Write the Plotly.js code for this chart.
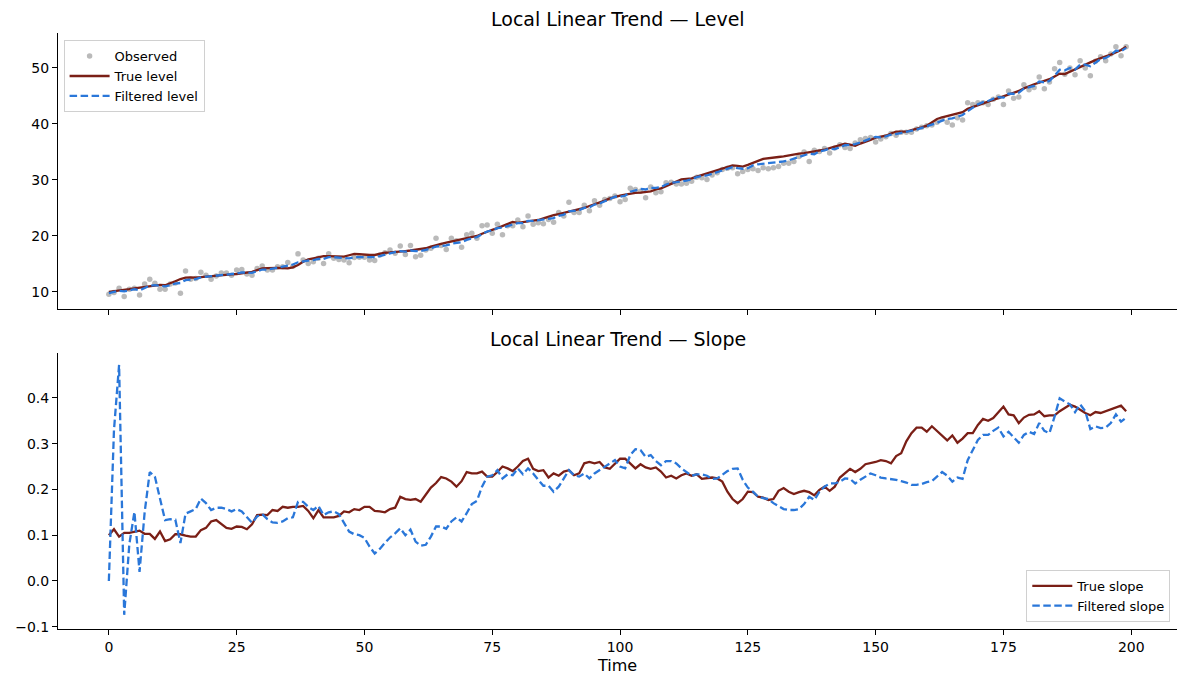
<!DOCTYPE html>
<html>
<head>
<meta charset="utf-8">
<script src="https://cdn.plot.ly/plotly-3.0.1.min.js"></script>
<style>
  html, body { margin: 0; padding: 0; background: #fff; }
  #chart { width: 1187px; height: 687px; }
</style>
</head>
<body>
<div id="chart"></div>
<script>
// values, t = 0..199
const observed = [
  9.6, 9.9, 10.65, 9.2, 10.5, 10.65, 9.45, 11.4, 12.25, 11.55,
  10.5, 10.5, 11.4, 11.6, 9.75, 13.75, 12.25, 12.4, 13.5, 13.0,
  12.25, 12.85, 13.4, 13.4, 13.0, 13.9, 14.0, 13.2, 13.0, 14.2,
  14.65, 13.9, 13.9, 14.5, 14.5, 15.25, 14.6, 16.8, 15.7, 15.1,
  15.4, 16.0, 15.1, 16.8, 16.0, 15.8, 15.7, 15.2, 16.15, 16.2,
  16.2, 15.7, 15.6, 16.6, 17.0, 17.5, 16.9, 18.2, 16.7, 18.3,
  16.3, 16.55, 17.5, 17.8, 19.6, 18.3, 17.6, 19.6, 19.15, 18.0,
  20.2, 20.5, 19.6, 21.8, 21.95, 20.5, 22.1, 20.2, 21.8, 21.8,
  22.85, 21.65, 23.55, 22.1, 22.35, 22.2, 22.95, 22.45, 24.2, 23.55,
  26.0, 24.2, 24.2, 25.5, 24.5, 26.3, 25.5, 26.5, 26.7, 27.15,
  26.1, 26.5, 28.5, 28.3, 28.0, 26.8, 28.75, 27.7, 27.9, 29.5,
  29.6, 29.3, 29.3, 29.4, 29.75, 30.5, 30.4, 30.1, 30.9, 31.3,
  31.85, 32.1, 32.2, 31.1, 31.5, 31.85, 32.0, 31.7, 32.2, 32.0,
  32.2, 32.4, 33.0, 33.0, 33.3, 34.2, 35.0, 33.3, 35.3, 35.1,
  35.6, 34.8, 35.7, 36.3, 35.8, 35.6, 36.6, 37.2, 37.4, 37.6,
  36.8, 37.3, 37.7, 38.3, 38.0, 38.5, 38.5, 38.5, 39.1, 39.4,
  39.7, 39.8, 40.3, 40.9, 40.3, 39.8, 41.1, 40.7, 43.8, 43.5,
  43.8, 43.8, 43.5, 44.4, 44.8, 43.5, 45.9, 44.6, 44.8, 47.0,
  46.1, 46.5, 48.4, 46.3, 47.5, 49.85, 51.0, 48.9, 50.0, 48.8,
  51.3, 50.0, 48.6, 51.2, 52.0, 51.3, 52.5, 53.8, 52.2, 53.8
];

const trueLevel = [
  10.0, 10.1, 10.2, 10.35, 10.5, 10.65, 10.75, 10.9, 11.0, 11.1,
  11.25, 11.2, 11.5, 11.9, 12.3, 12.55, 12.6, 12.55, 12.65, 12.75,
  12.85, 12.9, 13.0, 13.1, 13.15, 13.2, 13.3, 13.45, 13.6, 13.9,
  14.2, 14.25, 14.3, 14.3, 14.25, 14.2, 14.4, 14.8, 15.4, 15.8,
  16.0, 16.2, 16.4, 16.4, 16.4, 16.35, 16.3, 16.55, 16.8, 16.75,
  16.65, 16.6, 16.6, 16.8, 17.0, 17.05, 17.1, 17.2, 17.3, 17.4,
  17.5, 17.6, 17.8, 18.1, 18.4, 18.6, 18.8, 19.0, 19.2, 19.4,
  19.6, 19.8, 20.0, 20.4, 20.8, 21.1, 21.4, 21.75, 22.1, 22.5,
  22.35, 22.5, 22.6, 22.75, 22.85, 23.15, 23.45, 23.7, 23.9, 24.1,
  24.35, 24.5, 24.7, 25.0, 25.35, 25.65, 25.95, 26.3, 26.7, 27.0,
  27.2, 27.4, 27.6, 27.7, 27.75, 27.85, 27.95, 28.3, 28.5, 28.9,
  29.35, 29.75, 30.1, 30.2, 30.3, 30.6, 30.9, 31.2, 31.5, 31.8,
  32.1, 32.4, 32.6, 32.5, 32.4, 32.7, 33.0, 33.4, 33.75, 33.9,
  34.0, 34.1, 34.2, 34.4, 34.6, 34.7, 34.8, 34.95, 35.1, 35.25,
  35.4, 35.7, 36.0, 36.3, 36.5, 36.3, 36.1, 36.5, 36.8, 37.15,
  37.55, 37.7, 37.9, 38.3, 38.65, 38.65, 38.65, 38.9, 39.1, 39.4,
  39.7, 40.3, 40.9, 41.2, 41.45, 41.7, 41.9, 42.1, 42.7, 43.05,
  43.4, 43.7, 44.0, 44.3, 44.6, 44.9, 45.2, 45.55, 45.9, 46.35,
  46.8, 47.1, 47.4, 47.7, 48.0, 48.5, 49.0, 48.9, 49.35, 49.8,
  50.2, 50.6, 51.0, 51.4, 51.8, 52.1, 52.4, 52.8, 53.2, 53.8
];

const filteredLevel = [
  9.8, 10.0, 10.2, 10.1, 10.35, 10.5, 10.3, 10.7, 11.1, 11.2,
  11.1, 11.0, 11.2, 11.5, 11.6, 12.1, 12.2, 12.3, 12.6, 12.7,
  12.7, 12.8, 13.0, 13.1, 13.1, 13.3, 13.5, 13.4, 13.4, 13.7,
  14.0, 14.0, 14.1, 14.3, 14.5, 14.7, 14.9, 15.3, 15.5, 15.6,
  15.7, 15.9, 15.9, 16.2, 16.2, 16.1, 16.1, 16.0, 16.2, 16.2,
  16.3, 16.2, 16.2, 16.4, 16.7, 16.9, 17.1, 17.3, 17.2, 17.4,
  17.3, 17.3, 17.5, 17.8, 18.1, 18.2, 18.3, 18.6, 18.8, 18.9,
  19.3, 19.6, 19.8, 20.3, 20.8, 21.0, 21.4, 21.5, 21.8, 22.0,
  22.3, 22.3, 22.7, 22.7, 22.8, 22.9, 23.1, 23.2, 23.6, 23.8,
  24.4, 24.5, 24.6, 25.0, 25.1, 25.6, 25.8, 26.2, 26.6, 27.0,
  27.0, 27.2, 27.9, 28.2, 28.4, 28.3, 28.6, 28.6, 28.7, 29.2,
  29.5, 29.6, 29.7, 29.9, 30.1, 30.5, 30.7, 30.8, 31.1, 31.4,
  31.8, 32.1, 32.3, 32.1, 32.0, 32.1, 32.6, 32.8, 32.9, 33.0,
  33.0, 33.1, 33.3, 33.5, 33.8, 34.1, 34.5, 34.7, 34.6, 35.1,
  35.3, 35.6, 35.5, 35.8, 36.2, 36.3, 36.4, 36.7, 37.1, 37.4,
  37.7, 37.6, 37.8, 38.1, 38.2, 38.4, 38.6, 38.7, 39.0, 39.3,
  39.6, 39.8, 40.2, 40.6, 40.9, 41.0, 41.3, 41.6, 42.3, 42.9,
  43.5, 43.9, 44.1, 44.5, 44.8, 44.7, 45.4, 45.4, 45.6, 46.3,
  46.5, 46.8, 47.6, 47.4, 47.7, 48.6, 49.7, 49.6, 50.0, 49.7,
  50.6, 50.6, 50.3, 51.0, 51.6, 51.8, 52.3, 53.1, 53.0, 53.6
];

const trueSlope = [
  0.100, 0.113, 0.097, 0.105, 0.105, 0.108, 0.110, 0.103, 0.103, 0.092,
  0.108, 0.087, 0.091, 0.102, 0.102, 0.099, 0.097, 0.097, 0.111, 0.116,
  0.130, 0.133, 0.124, 0.116, 0.114, 0.119, 0.118, 0.113, 0.124, 0.144,
  0.145, 0.144, 0.155, 0.153, 0.162, 0.160, 0.162, 0.162, 0.164, 0.153,
  0.137, 0.155, 0.139, 0.139, 0.139, 0.142, 0.152, 0.150, 0.157, 0.155,
  0.162, 0.162, 0.153, 0.152, 0.150, 0.157, 0.160, 0.184, 0.179, 0.177,
  0.179, 0.173, 0.188, 0.204, 0.214, 0.227, 0.224, 0.217, 0.206, 0.218,
  0.238, 0.235, 0.235, 0.239, 0.228, 0.228, 0.238, 0.250, 0.246, 0.240,
  0.250, 0.262, 0.267, 0.245, 0.240, 0.242, 0.226, 0.235, 0.230, 0.239,
  0.242, 0.231, 0.235, 0.257, 0.260, 0.257, 0.260, 0.248, 0.245, 0.257,
  0.267, 0.267, 0.257, 0.246, 0.255, 0.248, 0.245, 0.248, 0.239, 0.226,
  0.230, 0.224, 0.231, 0.235, 0.230, 0.233, 0.223, 0.224, 0.226, 0.224,
  0.217, 0.195, 0.179, 0.170, 0.179, 0.195, 0.194, 0.184, 0.182, 0.177,
  0.179, 0.197, 0.203, 0.195, 0.190, 0.194, 0.197, 0.194, 0.187, 0.199,
  0.206, 0.197, 0.206, 0.226, 0.235, 0.245, 0.238, 0.245, 0.255, 0.257,
  0.260, 0.264, 0.262, 0.257, 0.273, 0.279, 0.305, 0.323, 0.335, 0.335,
  0.326, 0.338, 0.328, 0.316, 0.307, 0.318, 0.302, 0.311, 0.323, 0.323,
  0.341, 0.354, 0.350, 0.356, 0.369, 0.381, 0.364, 0.362, 0.345, 0.357,
  0.363, 0.364, 0.371, 0.360, 0.362, 0.362, 0.371, 0.378, 0.385, 0.381,
  0.374, 0.367, 0.362, 0.369, 0.367, 0.371, 0.374, 0.378, 0.383, 0.371
];

const filteredSlope = [
  0.000, 0.330, 0.472, -0.074, 0.080, 0.151, 0.020, 0.150, 0.238, 0.228,
  0.180, 0.133, 0.135, 0.134, 0.083, 0.147, 0.152, 0.157, 0.180, 0.170,
  0.155, 0.160, 0.160, 0.157, 0.152, 0.157, 0.152, 0.139, 0.127, 0.141,
  0.146, 0.135, 0.128, 0.127, 0.130, 0.137, 0.139, 0.173, 0.173, 0.162,
  0.155, 0.164, 0.144, 0.150, 0.152, 0.146, 0.127, 0.108, 0.102, 0.100,
  0.094, 0.075, 0.060, 0.070, 0.083, 0.095, 0.104, 0.115, 0.100, 0.112,
  0.086, 0.077, 0.079, 0.097, 0.119, 0.119, 0.114, 0.130, 0.139, 0.130,
  0.148, 0.168, 0.175, 0.206, 0.228, 0.231, 0.242, 0.224, 0.233, 0.231,
  0.246, 0.233, 0.246, 0.235, 0.221, 0.208, 0.208, 0.195, 0.206, 0.224,
  0.242, 0.231, 0.228, 0.235, 0.224, 0.235, 0.242, 0.250, 0.257, 0.264,
  0.250, 0.246, 0.275, 0.288, 0.286, 0.271, 0.275, 0.262, 0.253, 0.262,
  0.262, 0.257, 0.246, 0.238, 0.230, 0.233, 0.233, 0.230, 0.223, 0.224,
  0.233, 0.240, 0.245, 0.246, 0.221, 0.204, 0.195, 0.184, 0.181, 0.179,
  0.170, 0.164, 0.157, 0.155, 0.155, 0.157, 0.168, 0.184, 0.177, 0.195,
  0.206, 0.213, 0.213, 0.217, 0.224, 0.223, 0.213, 0.221, 0.228, 0.235,
  0.231, 0.226, 0.224, 0.223, 0.221, 0.218, 0.215, 0.210, 0.210, 0.212,
  0.216, 0.218, 0.228, 0.238, 0.230, 0.217, 0.226, 0.223, 0.264, 0.286,
  0.308, 0.319, 0.319, 0.328, 0.335, 0.316, 0.326, 0.314, 0.302, 0.319,
  0.326, 0.321, 0.345, 0.328, 0.323, 0.359, 0.399, 0.392, 0.386, 0.369,
  0.386, 0.371, 0.332, 0.338, 0.334, 0.335, 0.345, 0.364, 0.348, 0.357
];

const xTicks = [0, 25, 50, 75, 100, 125, 150, 175, 200];

const time = observed.map((_, i) => i);

const RED = "#7a1f16";
const BLUE = "#2a77d9";
const DASH = "7.5px,3.5px";

const traces = [
  {
    x: time, y: observed, type: "scatter", mode: "markers",
    name: "Observed", legend: "legend",
    marker: { color: "#a3a3a3", size: 5.5, opacity: 0.75 },
    xaxis: "x", yaxis: "y",
  },
  {
    x: time, y: trueLevel, type: "scatter", mode: "lines",
    name: "True level", legend: "legend",
    line: { color: RED, width: 2.3 },
    xaxis: "x", yaxis: "y",
  },
  {
    x: time, y: filteredLevel, type: "scatter", mode: "lines",
    name: "Filtered level", legend: "legend",
    line: { color: BLUE, width: 2.3, dash: DASH },
    xaxis: "x", yaxis: "y",
  },
  {
    x: time, y: trueSlope, type: "scatter", mode: "lines",
    name: "True slope", legend: "legend2",
    line: { color: RED, width: 2.3 },
    xaxis: "x2", yaxis: "y2",
  },
  {
    x: time, y: filteredSlope, type: "scatter", mode: "lines",
    name: "Filtered slope", legend: "legend2",
    line: { color: BLUE, width: 2.3, dash: DASH },
    xaxis: "x2", yaxis: "y2",
  },
];

const baseAxis = {
  showline: true, linecolor: "#000", linewidth: 1,
  ticks: "outside", ticklen: 5, tickwidth: 1, tickcolor: "#000",
  showgrid: false, zeroline: false,
  tickfont: { size: 14, color: "#000" },
};

const legendStyle = {
  bgcolor: "rgba(255,255,255,0.8)", bordercolor: "#d0d0d0", borderwidth: 1,
  font: { size: 13, color: "#000" },
  tracegroupgap: 0, itemwidth: 40,
};

const layout = {
  width: 1187, height: 687,
  margin: { l: 58, r: 10, t: 33, b: 58 },
  paper_bgcolor: "#fff", plot_bgcolor: "#fff",
  font: { family: "DejaVu Sans, sans-serif", color: "#000" },
  showlegend: true,
  xaxis: Object.assign({}, baseAxis, {
    domain: [0, 1], anchor: "y", range: [-9.95, 208.95],
    tickvals: xTicks, showticklabels: false,
  }),
  yaxis: Object.assign({}, baseAxis, {
    domain: [0.537, 1], anchor: "x", range: [6.96, 56.25], dtick: 10, tick0: 0,
  }),
  xaxis2: Object.assign({}, baseAxis, {
    domain: [0, 1], anchor: "y2", range: [-9.95, 208.95], matches: "x",
    tickvals: xTicks,
    title: { text: "Time", font: { size: 16 }, standoff: 6 },
  }),
  yaxis2: Object.assign({}, baseAxis, {
    domain: [0, 0.463], anchor: "x2", range: [-0.105, 0.498],
    dtick: 0.1, tick0: 0, tickformat: ".1f",
  }),
  legend: Object.assign({}, legendStyle, {
    x: 0.005, y: 0.988, xanchor: "left", yanchor: "top",
  }),
  legend2: Object.assign({}, legendStyle, {
    x: 0.994, y: 0.012, xanchor: "right", yanchor: "bottom",
  }),
  annotations: [
    {
      text: "Local Linear Trend — Level", xref: "paper", yref: "paper",
      x: 0.5, y: 1.0235, xanchor: "center", yanchor: "middle",
      showarrow: false, font: { size: 19 },
    },
    {
      text: "Local Linear Trend — Slope", xref: "paper", yref: "paper",
      x: 0.5, y: 0.4866, xanchor: "center", yanchor: "middle",
      showarrow: false, font: { size: 19 },
    },
  ],
};

Plotly.newPlot("chart", traces, layout, { displayModeBar: false, responsive: false });
</script>
</body>
</html>
